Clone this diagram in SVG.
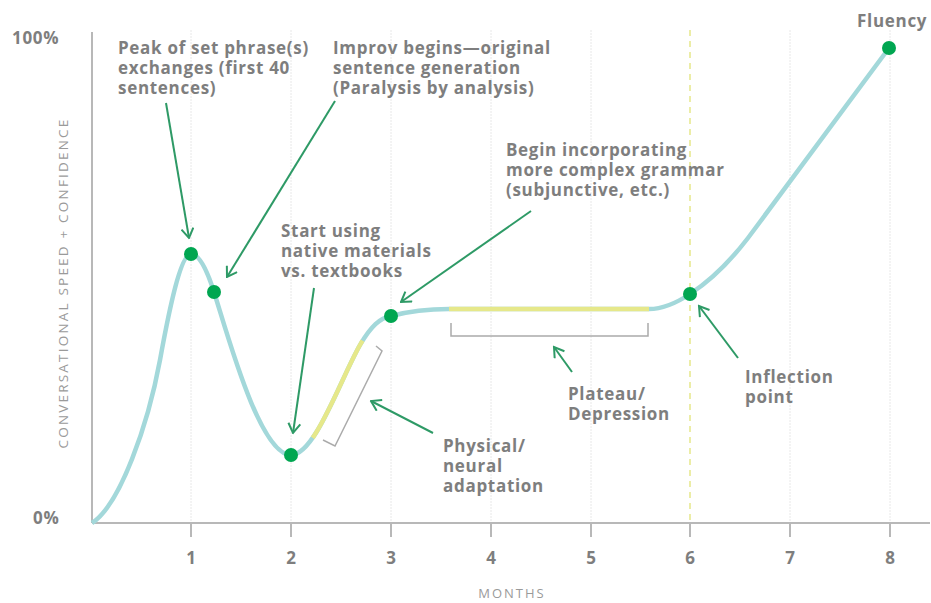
<svg xmlns="http://www.w3.org/2000/svg" width="931" height="603" viewBox="0 0 931 603">
<style>
.lbl{font-family:"Open Sans","Liberation Sans",sans-serif;font-weight:700;font-size:17px;letter-spacing:0.7px;fill:#7e7e7e}
.tick{font-family:"Open Sans","Liberation Sans",sans-serif;font-weight:700;font-size:17px;fill:#7e7e7e;text-anchor:middle}
.axt{font-family:"Open Sans","Liberation Sans",sans-serif;font-weight:400;font-size:13px;fill:#9a9a9a;letter-spacing:2px}
.yax{font-family:"Open Sans","Liberation Sans",sans-serif;font-weight:400;font-size:13.5px;fill:#9a9a9a;letter-spacing:2.2px}
.grid{stroke:#e8e8e8;stroke-width:1;stroke-dasharray:2 1}
.axis{stroke:#b8b8b8;stroke-width:2;fill:none}
.arr{stroke:#2e9a66;stroke-width:2;fill:none;marker-end:url(#head)}
.brk{stroke:#ababab;stroke-width:1.5;fill:none}
.dot{fill:#00a651}
</style>
<defs>
<marker id="head" viewBox="0 0 14 14" refX="12.5" refY="7" markerWidth="14" markerHeight="14" markerUnits="userSpaceOnUse" orient="auto">
<path d="M3,1 L12.5,7 L3,13" fill="none" stroke="#2e9a66" stroke-width="2"/>
</marker>
</defs>
<rect width="931" height="603" fill="#ffffff"/>
<g id="grid">
<line class="grid" x1="191" y1="30" x2="191" y2="523"/>
<line class="grid" x1="291" y1="30" x2="291" y2="523"/>
<line class="grid" x1="391" y1="30" x2="391" y2="523"/>
<line class="grid" x1="491" y1="30" x2="491" y2="523"/>
<line class="grid" x1="591" y1="30" x2="591" y2="523"/>
<line class="grid" x1="790" y1="30" x2="790" y2="523"/>
<line class="grid" x1="890" y1="30" x2="890" y2="523"/>
<line x1="690" y1="30" x2="690" y2="523" stroke="#e6e88a" stroke-width="1.5" stroke-dasharray="6 5"/>
</g>
<g id="axes">
<line class="axis" x1="92" y1="32" x2="92" y2="523"/>
<line class="axis" x1="92" y1="523" x2="930" y2="523"/>
<line class="axis" x1="191" y1="523" x2="191" y2="537"/>
<line class="axis" x1="291" y1="523" x2="291" y2="537"/>
<line class="axis" x1="391" y1="523" x2="391" y2="537"/>
<line class="axis" x1="491" y1="523" x2="491" y2="537"/>
<line class="axis" x1="591" y1="523" x2="591" y2="537"/>
<line class="axis" x1="690" y1="523" x2="690" y2="537"/>
<line class="axis" x1="790" y1="523" x2="790" y2="537"/>
<line class="axis" x1="890" y1="523" x2="890" y2="537"/>
<text class="tick" x="191" y="564">1</text>
<text class="tick" x="291" y="564">2</text>
<text class="tick" x="391" y="564">3</text>
<text class="tick" x="491" y="564">4</text>
<text class="tick" x="591" y="564">5</text>
<text class="tick" x="690" y="564">6</text>
<text class="tick" x="790" y="564">7</text>
<text class="tick" x="890" y="564">8</text>
<text class="lbl" x="12" y="44" font-size="20" letter-spacing="1.5">100%</text>
<text class="lbl" x="33" y="524" font-size="20" letter-spacing="2">0%</text>
<text class="axt" x="512" y="598" text-anchor="middle">MONTHS</text>
<text class="yax" transform="translate(68,283) rotate(-90)" text-anchor="middle">CONVERSATIONAL SPEED + CONFIDENCE</text>
</g>
<g id="curve">
<path d="M92,523 C120,505 148,425 160,360 C170,305 181,254 191,254 C199,254 207,270 214,292 C228,336 260,455 291,455 C315,455 340,380 360,345 C371,326 380,318 391,316 C410,311 430,309 449,309 L649,309 C665,309 678,302 690,294 C710,281 728,264 748,238 L889,48" fill="none" stroke="#a3d8da" stroke-width="4.5" stroke-linejoin="round"/>
<path d="M312.7,437.85 C329.55,413.6 346,369.5 360,345 L362.5,340.7" fill="none" stroke="#e6e88a" stroke-width="4.5"/>
<path d="M449,309 L649,309" fill="none" stroke="#e6e88a" stroke-width="4.5"/>
</g>
<g id="brackets">
<path class="brk" d="M451,323 L451,336 L648,336 L648,323"/>
<path class="brk" d="M376,346 L382,351 L335,446 L323,440"/>
</g>
<g id="n-peak"><circle class="dot" cx="191" cy="254" r="7"/>
<text class="lbl" x="118" y="54">Peak of set phrase(s)</text>
<text class="lbl" x="118" y="74">exchanges (first 40</text>
<text class="lbl" x="118" y="94">sentences)</text></g>
<g id="n-improv"><circle class="dot" cx="214" cy="292" r="7"/>
<text class="lbl" x="333" y="54">Improv begins—original</text>
<text class="lbl" x="333" y="74">sentence generation</text>
<text class="lbl" x="333" y="94">(Paralysis by analysis)</text></g>
<g id="n-native"><circle class="dot" cx="291" cy="455" r="7"/>
<text class="lbl" x="281" y="237">Start using</text>
<text class="lbl" x="281" y="257">native materials</text>
<text class="lbl" x="281" y="277">vs. textbooks</text></g>
<g id="n-grammar"><circle class="dot" cx="391" cy="316" r="7"/>
<text class="lbl" x="506" y="156">Begin incorporating</text>
<text class="lbl" x="506" y="176">more complex grammar</text>
<text class="lbl" x="506" y="196">(subjunctive, etc.)</text></g>
<g id="n-physical">
<text class="lbl" x="443" y="452">Physical/</text>
<text class="lbl" x="443" y="472">neural</text>
<text class="lbl" x="443" y="492">adaptation</text></g>
<g id="n-plateau">
<text class="lbl" x="568" y="400">Plateau/</text>
<text class="lbl" x="568" y="420">Depression</text></g>
<g id="n-inflection"><circle class="dot" cx="690" cy="294" r="7"/>
<text class="lbl" x="745" y="383">Inflection</text>
<text class="lbl" x="745" y="403">point</text></g>
<g id="n-fluency"><circle class="dot" cx="889" cy="48" r="7"/>
<text class="lbl" x="857" y="27">Fluency</text></g>
<g id="connectors">
<line class="arr" x1="166" y1="103" x2="189" y2="238"/>
<line class="arr" x1="335" y1="101" x2="227" y2="277"/>
<line class="arr" x1="314" y1="288" x2="293" y2="433"/>
<line class="arr" x1="531" y1="211" x2="401" y2="302"/>
<line class="arr" x1="433" y1="433" x2="371" y2="401"/>
<line class="arr" x1="572" y1="372" x2="554" y2="347"/>
<line class="arr" x1="738" y1="358" x2="699" y2="306"/>
</g>
</svg>
